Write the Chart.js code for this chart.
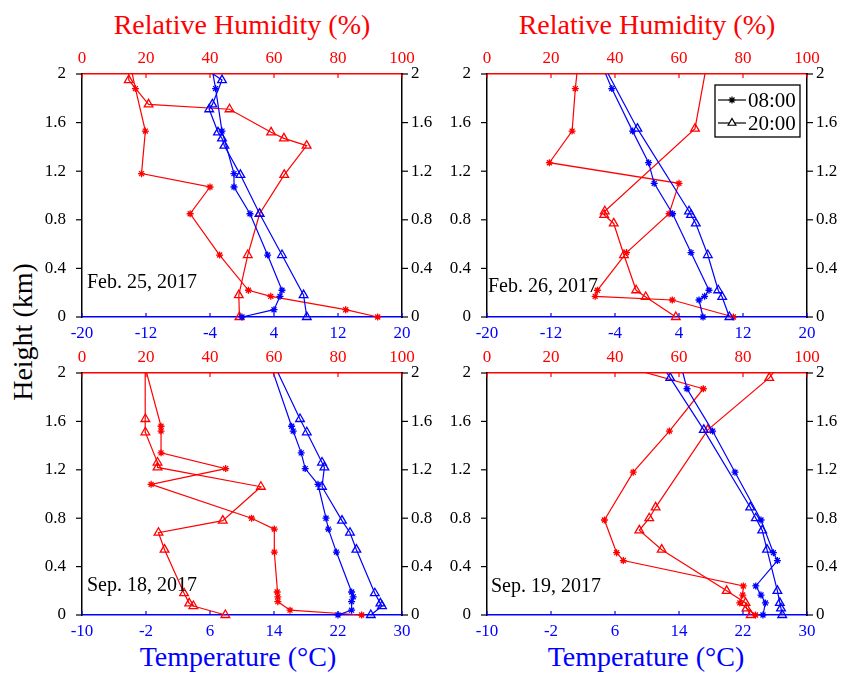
<!DOCTYPE html>
<html>
<head>
<meta charset="utf-8">
<script src="https://cdn.jsdelivr.net/npm/chart.js@4.4.1/dist/chart.umd.min.js"></script>
<style>
  body { margin: 0; width: 842px; height: 677px; position: relative; overflow: hidden; background: #fff;
         font-family: "Liberation Serif", "Times New Roman", serif; }
  canvas { position: absolute; }
  .lbl { position: absolute; white-space: nowrap; }
  .title { font-size: 28px; line-height: 28px; text-align: center; width: 320px; }
  .date { font-size: 20px; line-height: 20px; color: #000; }
</style>
</head>
<body>

<div class="lbl title" style="left:82px; top:11px; color:#f00;">Relative Humidity (%)</div>
<div class="lbl title" style="left:487px; top:11px; color:#f00;">Relative Humidity (%)</div>
<div class="lbl title" style="left:78px; top:643px; color:#00f;">Temperature (°C)</div>
<div class="lbl title" style="left:486px; top:643px; color:#00f;">Temperature (°C)</div>
<div class="lbl title" style="left:-137px; top:318px; width:320px; color:#000; transform:rotate(-90deg);">Height (km)</div>

<canvas id="p1" width="440" height="300" style="left:0; top:45px;"></canvas>
<canvas id="p2" width="402" height="300" style="left:440px; top:45px;"></canvas>
<canvas id="p3" width="440" height="300" style="left:0; top:345px;"></canvas>
<canvas id="p4" width="402" height="300" style="left:440px; top:345px;"></canvas>

<div class="lbl date" id="d1" style="left:87px; top:271px;"></div>
<div class="lbl date" id="d2" style="left:488px; top:275px;"></div>
<div class="lbl date" id="d3" style="left:87px; top:574px;"></div>
<div class="lbl date" id="d4" style="left:491px; top:575px;"></div>

<script>
// axis ticks
const heightTicks = [0, 0.4, 0.8, 1.2, 1.6, 2];
const rhTicks = [0, 20, 40, 60, 80, 100];
const febTempTicks = [-20, -12, -4, 4, 12, 20];
const sepTempTicks = [-10, -2, 6, 14, 22, 30];
const timeLabels = ['08:00', '20:00'];
const dateLabels = ['Feb. 25, 2017', 'Feb. 26, 2017', 'Sep. 18, 2017', 'Sep. 19, 2017'];

// Feb. 25 (last point of each profile sits above 2 km and is clipped)
const feb25Height08 = [0, 0.06, 0.17, 0.22, 0.51, 0.85, 1.07, 1.18, 1.53, 1.88, 2.1];
const feb25Rh08     = [92.4, 82.4, 59, 52, 43, 33.8, 40, 18.6, 19.8, 16.7, 14.9];
const feb25Temp08   = [0, 4.0, 4.75, 5.0, 3.2, 1.0, -1.0, -1.0, -2.5, -3.3, -3.9];
const feb25Height20 = [0, 0.18, 0.51, 0.85, 1.17, 1.41, 1.47, 1.52, 1.71, 1.75, 1.95, 2.1];
const feb25Rh20     = [49.2, 49, 51.8, 55.5, 63.2, 70.2, 63.1, 59.1, 46.1, 20.8, 14.6, 14.6];
const feb25Temp20   = [8.1, 7.7, 5.0, 2.2, -0.2, -2.2, -2.5, -3.0, -4.1, -3.7, -2.5, -5.9];

// Feb. 26
const feb26Height08 = [0, 0.14, 0.17, 0.22, 0.53, 0.85, 1.10, 1.27, 1.53, 1.88, 2.1];
const feb26Rh08     = [77, 57.9, 33.8, 34.5, 43.6, 56.9, 60, 19.5, 26.6, 27.6, 28.5];
const feb26Temp08   = [7.0, 6.5, 7.2, 7.75, 5.5, 3.2, 0.9, 0.2, -1.8, -4.4, -5.8];
const feb26Height20 = [0, 0.165, 0.22, 0.51, 0.77, 0.84, 0.87, 1.55, 2.1];
const feb26Rh20     = [59, 49.6, 46.6, 42.8, 39.6, 36.6, 36.8, 65, 68.8];
const feb26Temp20   = [10.3, 9.4, 8.9, 7.6, 6.1, 5.5, 5.25, -1.2, -5.65];

// Sep. 18
const sep18Height08 = [0, 0.04, 0.11, 0.15, 0.19, 0.52, 0.71, 0.80, 1.08, 1.21, 1.34, 1.52, 1.56, 2.1];
const sep18Rh08     = [87.4, 65, 61.2, 61.2, 61.0, 60.1, 60.1, 53, 21.6, 44.9, 24.7, 24.7, 24.7, 19.2];
const sep18Temp08   = [22.0, 23.7, 23.7, 23.9, 23.7, 21.8, 20.8, 20.5, 19.5, 17.9, 17.4, 16.4, 16.2, 13.4];
const sep18Height20 = [0, 0.074, 0.096, 0.18, 0.54, 0.68, 0.78, 1.06, 1.22, 1.26, 1.51, 1.62, 2.1];
const sep18Rh20     = [44.8, 34.8, 33.5, 31.9, 25.8, 23.9, 44, 55.9, 23.6, 23.6, 19.8, 19.8, 19.7];
const sep18Temp20   = [26.1, 27.5, 27.3, 26.6, 24.3, 23.5, 22.5, 20.0, 20.3, 20.0, 18.1, 17.25, 13.8];

// Sep. 19
const sep19Height08 = [0, 0.1, 0.165, 0.24, 0.45, 0.515, 0.785, 1.18, 1.52, 1.87, 2.1];
const sep19Rh08     = [83.9, 79, 79.9, 80.1, 42.6, 40.5, 36.7, 45.7, 57, 67.6, 36.5];
const sep19Temp08   = [24.5, 24.8, 24.25, 23.6, 26.3, 25.8, 24.25, 21, 18.2, 15, 14.1];
const sep19Height20 = [0, 0.055, 0.1, 0.2, 0.54, 0.70, 0.80, 0.89, 1.53, 1.96, 2.1];
const sep19Rh20     = [82.4, 81.1, 80.8, 74.9, 54.6, 47.6, 50.7, 52.7, 69, 88.2, 92.4];
const sep19Temp20   = [26.9, 26.75, 26.6, 26.3, 25.0, 24.4, 23.6, 22.9, 17.1, 12.9, 11.5];

const RED = '#ff0000';
const BLUE = '#0000ff';
const FONT = '"Liberation Serif", "Times New Roman", serif';

// small tick marks: x ticks point inward, y ticks outward
const tickMarks = {
  id: 'tickMarks',
  afterDraw(chart) {
    const { ctx, chartArea: a } = chart;
    ctx.save();
    ctx.lineWidth = 1.2;
    Object.values(chart.scales).forEach(s => {
      ctx.strokeStyle = s.options.border.color;
      s.ticks.forEach(t => {
        const p = s.getPixelForValue(t.value);
        ctx.beginPath();
        if (s.position === 'bottom') { ctx.moveTo(p, a.bottom); ctx.lineTo(p, a.bottom - 4); }
        else if (s.position === 'top') { ctx.moveTo(p, a.top); ctx.lineTo(p, a.top + 4); }
        else if (s.position === 'left') { ctx.moveTo(a.left, p); ctx.lineTo(a.left - 6, p); }
        else { ctx.moveTo(a.right, p); ctx.lineTo(a.right + 6, p); }
        ctx.stroke();
      });
    });
    ctx.restore();
  }
};

// legend box inside the Feb. 26 panel
const legendBox = {
  id: 'legendBox',
  afterDraw(chart, args, opts) {
    if (!opts.show) return;
    const { ctx, chartArea: a } = chart;
    const x0 = a.right - 92, y0 = a.top + 11, w = 85, h = 52;
    ctx.save();
    ctx.fillStyle = '#fff';
    ctx.fillRect(x0, y0, w, h);
    ctx.strokeStyle = '#000';
    ctx.lineWidth = 1.3;
    ctx.strokeRect(x0, y0, w, h);
    ['star', 'triangle'].forEach((style, i) => {
      const y = y0 + 15 + i * 23;
      ctx.strokeStyle = '#000';
      ctx.lineWidth = 1.2;
      ctx.beginPath(); ctx.moveTo(x0 + 3, y); ctx.lineTo(x0 + 31, y); ctx.stroke();
      ctx.fillStyle = '#fff';
      Chart.helpers.drawPoint(ctx, { pointStyle: style, radius: style === 'star' ? 3.5 : 4.5, borderWidth: 1.2 }, x0 + 17, y);
      ctx.fillStyle = '#000';
      ctx.font = '21px ' + FONT;
      ctx.textBaseline = 'alphabetic';
      ctx.fillText(timeLabels[i], x0 + 33, y + 7);
    });
    ctx.restore();
  }
};

function pair(heights, values) {
  return heights.map((y, i) => ({ x: values[i], y: y }));
}

function series(data, axisId, color, style) {
  return {
    data: data,
    xAxisID: axisId,
    yAxisID: 'y',
    showLine: true,
    borderColor: color,
    backgroundColor: 'rgba(0,0,0,0)',
    borderWidth: 1.2,
    pointStyle: style,
    pointRadius: style === 'star' ? 3.5 : 5,
    pointBorderWidth: 1.3,
    pointBorderColor: color,
    pointBackgroundColor: 'rgba(0,0,0,0)',
    clip: { left: 10, right: 10, top: 0, bottom: 10 }
  };
}

function axis(position, ticks, color, size, pad) {
  return {
    type: 'linear',
    position: position,
    min: ticks[0],
    max: ticks[ticks.length - 1],
    afterBuildTicks: s => { s.ticks = ticks.map(v => ({ value: v })); },
    afterFit: s => {
      if (position === 'left' || position === 'right') s.width = size; else s.height = size;
    },
    grid: { display: true, drawOnChartArea: false, drawTicks: false },
    border: { display: true, color: color, width: 1.5 },
    ticks: {
      color: color, padding: pad, autoSkip: false, maxRotation: 0,
      font: { family: FONT, size: 17 },
      callback: v => String(Math.round(v * 10) / 10)
    }
  };
}

function makePanel(id, p) {
  new Chart(document.getElementById(id), {
    type: 'scatter',
    data: {
      datasets: [
        series(pair(p.h08, p.t08), 'x', BLUE, 'star'),
        series(pair(p.h20, p.t20), 'x', BLUE, 'triangle'),
        series(pair(p.h08, p.rh08), 'x2', RED, 'star'),
        series(pair(p.h20, p.rh20), 'x2', RED, 'triangle')
      ]
    },
    options: {
      responsive: false,
      animation: false,
      layout: { padding: 0 },
      scales: {
        x: axis('bottom', p.tempTicks, BLUE, p.bottom, 6),
        x2: axis('top', rhTicks, RED, p.top, 5),
        y: axis('left', heightTicks, '#000', p.left, 16),
        y2: axis('right', heightTicks, '#000', p.right, 9)
      },
      plugins: {
        legend: { display: false },
        tooltip: { enabled: false },
        legendBox: { show: !!p.legend }
      }
    },
    plugins: [tickMarks, legendBox]
  });
}

makePanel('p1', { h08: feb25Height08, rh08: feb25Rh08, t08: feb25Temp08, h20: feb25Height20, rh20: feb25Rh20, t20: feb25Temp20,
  tempTicks: febTempTicks, left: 82, right: 38, top: 29, bottom: 28 });
makePanel('p2', { h08: feb26Height08, rh08: feb26Rh08, t08: feb26Temp08, h20: feb26Height20, rh20: feb26Rh20, t20: feb26Temp20,
  tempTicks: febTempTicks, left: 47, right: 35, top: 29, bottom: 28, legend: true });
makePanel('p3', { h08: sep18Height08, rh08: sep18Rh08, t08: sep18Temp08, h20: sep18Height20, rh20: sep18Rh20, t20: sep18Temp20,
  tempTicks: sepTempTicks, left: 82, right: 38, top: 28, bottom: 30 });
makePanel('p4', { h08: sep19Height08, rh08: sep19Rh08, t08: sep19Temp08, h20: sep19Height20, rh20: sep19Rh20, t20: sep19Temp20,
  tempTicks: sepTempTicks, left: 47, right: 35, top: 28, bottom: 30 });

['d1', 'd2', 'd3', 'd4'].forEach((id, i) => { document.getElementById(id).textContent = dateLabels[i]; });
</script>
</body>
</html>
